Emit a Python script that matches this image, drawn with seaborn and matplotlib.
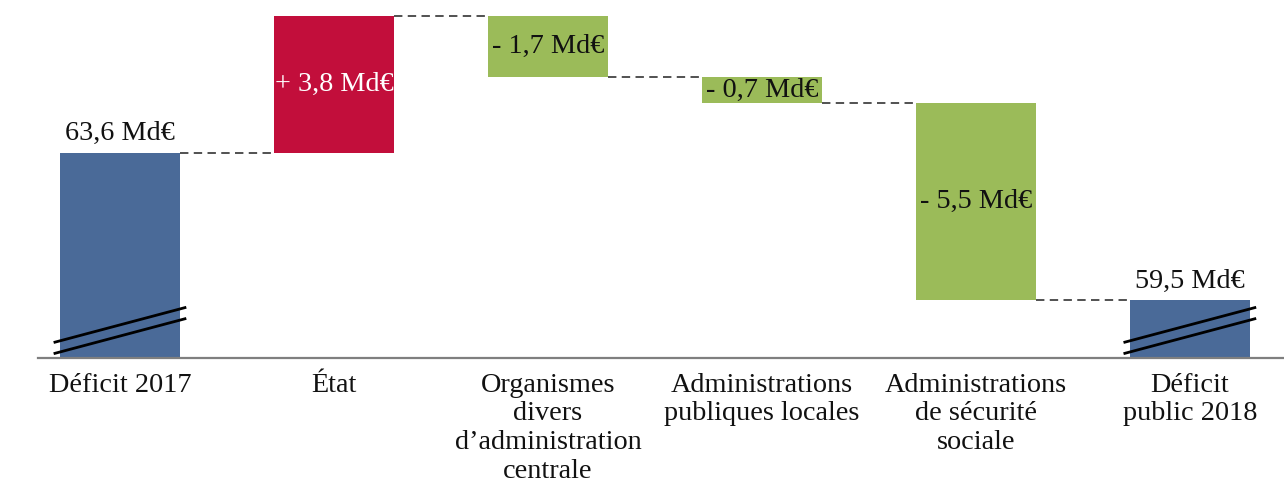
import matplotlib
matplotlib.use("Agg")
import matplotlib.pyplot as plt
import seaborn as sns
import pandas as pd

categories = ["Déficit 2017", "État",
              "Organismes\ndivers\nd\u2019administration\ncentrale",
              "Administrations\npubliques locales",
              "Administrations\nde sécurité\nsociale",
              "Déficit\npublic 2018"]
changes = [63.6, 3.8, -1.7, -0.7, -5.5, 59.5]
kinds = ["total", "up", "down", "down", "down", "total"]
labels = ["63,6 Md€", "+ 3,8 Md€", "- 1,7 Md€", "- 0,7 Md€", "- 5,5 Md€", "59,5 Md€"]

colors = {"total": "#4A6A98", "up": "#C20E3B", "down": "#9BBB59"}
text_colors = {"total": "#111111", "up": "white", "down": "#111111"}

# waterfall geometry from the data
bottoms, heights, levels = [], [], []
running = 0.0
for v, k in zip(changes, kinds):
    if k == "total":
        bottoms.append(0.0); heights.append(v); running = v
    else:
        bottoms.append(min(running, running + v)); heights.append(abs(v)); running += v
    levels.append(running)

df = pd.DataFrame({"cat": categories, "h": heights, "b": bottoms})

sns.set_theme(style="white")
plt.rcParams["font.family"] = ["Liberation Serif", "DejaVu Serif"]

fig = plt.figure(figsize=(12.84, 4.88), dpi=100)
ax = fig.add_axes([0.0296, 0.2664, 0.9704, 0.7336])

W = 0.56
sns.barplot(data=df, x="cat", y="h", bottom=df["b"].values, width=W,
            color="#4A6A98", errorbar=None, ax=ax, linewidth=0)
for p, k in zip(ax.patches, kinds):
    p.set_facecolor(colors[k])
    p.set_edgecolor(colors[k])

ymin, ymax = 57.9, 67.85
ax.set_xlim(-0.383, 5.44)
ax.set_ylim(ymin, ymax)

# connectors
for i in range(len(categories) - 1):
    ax.plot([i + W / 2, i + 1 - W / 2], [levels[i], levels[i]],
            color="#222222", lw=1.1, ls=(0, (5.5, 3.5)), zorder=1)

# value labels
fs = 20.3
for i, (k, lab) in enumerate(zip(kinds, labels)):
    if k == "total":
        ax.annotate(lab, (i, heights[i]), xytext=(0, 5), textcoords="offset points",
                    ha="center", va="bottom", fontsize=fs, color=text_colors[k])
    else:
        ax.text(i, bottoms[i] + heights[i] / 2, lab, ha="center", va="center",
                fontsize=fs, color=text_colors[k])

# axis-break marks on the total bars
for i, k in enumerate(kinds):
    if k == "total":
        for dy in (0.0, -0.31):
            ax.plot([i - 0.31, i + 0.31], [58.33 + dy, 59.31 + dy],
                    color="black", lw=2.0, solid_capstyle="butt", zorder=4)

for s in ["top", "right", "left"]:
    ax.spines[s].set_visible(False)
ax.spines["bottom"].set_color("#7F7F7F")
ax.spines["bottom"].set_linewidth(1.6)
ax.spines["bottom"].set_zorder(5)
ax.set_yticks([])
ax.set_xlabel("")
ax.set_ylabel("")
ax.tick_params(axis="x", length=0, pad=10.5, labelsize=fs, colors="#111111")
for t in ax.get_xticklabels():
    t.set_linespacing(1.2)
    t.set_ha("center")
    t.set_multialignment("center")

fig.savefig("out.png", dpi=100)
